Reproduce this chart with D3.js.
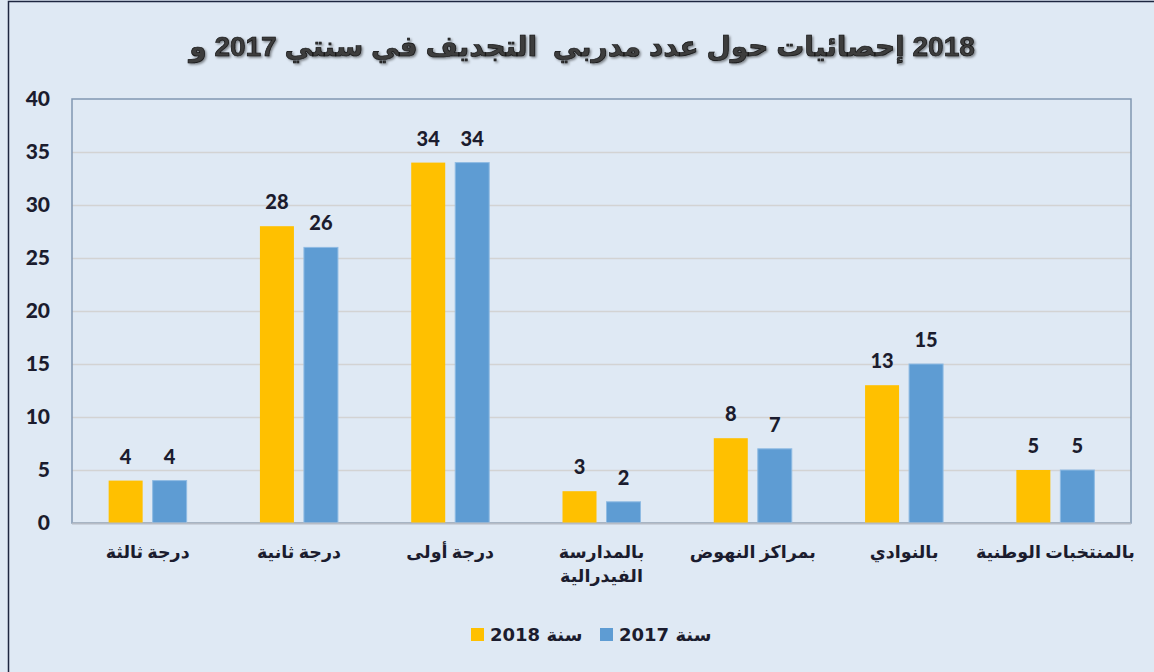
<!DOCTYPE html>
<html>
<head>
<meta charset="utf-8">
<script src="https://cdn.jsdelivr.net/npm/d3@7"></script>
<style>
  body { margin: 0; background: #dfe9f4; }
  svg { display: block; }
  .tick text { font-family: Lato, "DejaVu Sans", sans-serif; }
</style>
</head>
<body>
<svg width="1154" height="672"></svg>
<script>
// Data
let categories = ["درجة ثالثة", "درجة ثانية", "درجة أولى", "بالمدارسة|الفيدرالية", "بمراكز النهوض", "بالنوادي", "بالمنتخبات الوطنية"];
let series = ["سنة 2018", "سنة 2017"];
let values2018 = [4, 28, 34, 3, 8, 13, 5];
let values2017 = [4, 26, 34, 2, 7, 15, 5];
let yTicks = [0, 5, 10, 15, 20, 25, 30, 35, 40];
let titleText = "2018 إحصائيات حول عدد مدربي \u00A0التجديف في سنتي 2017 و";

let colors = { "سنة 2018": "#ffc000", "سنة 2017": "#5e9cd3" };

let svg = d3.select("svg");
let width = +svg.attr("width");
let height = +svg.attr("height");

// plot area
let margin = { top: 99, right: 23, bottom: 149, left: 72 };
let plotW = width - margin.left - margin.right;
let plotH = height - margin.top - margin.bottom;

// background + outer frame
svg.append("rect")
  .attr("width", width).attr("height", height)
  .attr("fill", "#dfe9f4");
svg.append("rect")
  .attr("x", 8.5).attr("y", 1.5)
  .attr("width", width + 10).attr("height", height + 10)
  .attr("fill", "none")
  .attr("stroke", "#1e2740")
  .attr("stroke-width", 1.5);

// shadow filter for title
let defs = svg.append("defs");
let f = defs.append("filter").attr("id", "shadow").attr("x", "-5%").attr("y", "-30%").attr("width", "110%").attr("height", "160%");
f.append("feDropShadow").attr("dx", 1.5).attr("dy", 1.5).attr("stdDeviation", 0.8).attr("flood-color", "#000").attr("flood-opacity", 0.45);

// Title
svg.append("text")
  .attr("x", 582).attr("y", 56)
  .attr("direction", "rtl")
  .attr("text-anchor", "middle")
  .attr("font-family", "'Liberation Sans', 'DejaVu Sans', sans-serif")
  .attr("font-weight", "bold")
  .attr("font-size", 28)
  .attr("fill", "#3c3c3c")
  .attr("stroke", "#111")
  .attr("stroke-width", 0.7)
  .attr("filter", "url(#shadow)")
  .text(titleText);

let chart = svg.append("g")
  .attr("transform", "translate(" + margin.left + "," + margin.top + ")");

// Scales
let x0 = d3.scaleBand().domain(categories).range([0, plotW]);
let x1 = d3.scaleBand().domain(series)
  .range([x0.bandwidth() / 2 - 39, x0.bandwidth() / 2 + 39])
  .paddingInner(0.2273);
let y = d3.scaleLinear().domain([0, 40]).range([plotH, 0]);

// gridlines
chart.append("g")
  .attr("class", "grid")
  .call(d3.axisLeft(y).tickValues(yTicks.slice(1, -1)).tickSize(-plotW).tickFormat(""))
  .call(g => g.select(".domain").remove())
  .selectAll("line")
  .attr("stroke", "#d3d3d3")
  .attr("stroke-width", 1.5);

// plot border
chart.append("rect")
  .attr("x", 0).attr("y", 0)
  .attr("width", plotW).attr("height", plotH)
  .attr("fill", "none")
  .attr("stroke", "#8197b1")
  .attr("stroke-width", 1.5);

// Bars
let table = categories.map((c, i) => ({ cat: c, vals: [
  { s: series[0], v: values2018[i] },
  { s: series[1], v: values2017[i] }
]}));

let groups = chart.selectAll(".cat")
  .data(table)
  .enter().append("g")
  .attr("class", "cat")
  .attr("transform", d => "translate(" + x0(d.cat) + ",0)");

groups.selectAll("rect")
  .data(d => d.vals)
  .enter().append("rect")
  .attr("x", d => x1(d.s))
  .attr("y", d => y(d.v))
  .attr("width", x1.bandwidth())
  .attr("height", d => plotH - y(d.v))
  .attr("fill", d => colors[d.s])
  .attr("stroke", d => d.s === series[1] ? "#8fbbe3" : "none")
  .attr("stroke-width", 1);

groups.selectAll("text")
  .data(d => d.vals)
  .enter().append("text")
  .attr("x", d => x1(d.s) + x1.bandwidth() / 2)
  .attr("y", d => y(d.v) - 17)
  .attr("text-anchor", "middle")
  .attr("font-family", "Lato, 'DejaVu Sans', sans-serif")
  .attr("font-weight", 900)
  .attr("font-size", 20)
  .attr("fill", "#1b1c2e")
  .text(d => d.v);

// bottom axis line
chart.append("line")
  .attr("x1", 0).attr("x2", plotW)
  .attr("y1", plotH + 0.5).attr("y2", plotH + 0.5)
  .attr("stroke", "#b6bcc6")
  .attr("stroke-width", 2);

// Y axis labels
chart.append("g")
  .call(d3.axisLeft(y).tickValues(yTicks).tickSize(0).tickPadding(22))
  .call(g => g.select(".domain").remove())
  .selectAll("text")
  .attr("font-size", 21)
  .attr("font-weight", 900)
  .attr("fill", "#1b1c2e");

// X axis labels
let xAxis = chart.append("g")
  .attr("transform", "translate(0," + plotH + ")")
  .call(d3.axisBottom(x0).tickSize(0).tickFormat(""))
  .call(g => g.select(".domain").remove());

xAxis.selectAll(".tick").each(function(d) {
  let lines = d.split("|");
  let t = d3.select(this).append("text")
    .attr("direction", "rtl")
    .attr("text-anchor", "middle")
    .attr("font-family", "'DejaVu Sans', sans-serif")
    .attr("font-weight", "bold")
    .attr("font-size", 17.5)
    .attr("fill", "#1b1c2e");
  lines.forEach((ln, i) => {
    t.append("tspan").attr("x", 0).attr("y", 35 + i * 24).text(ln);
  });
});

// Legend
let legendItems = [
  { s: series[0], x: 471 },
  { s: series[1], x: 600 }
];
let legend = svg.append("g");
legend.selectAll("rect")
  .data(legendItems)
  .enter().append("rect")
  .attr("x", d => d.x).attr("y", 628)
  .attr("width", 13).attr("height", 13)
  .attr("fill", d => colors[d.s]);
legend.selectAll("text")
  .data(legendItems)
  .enter().append("text")
  .attr("x", d => d.x + 19).attr("y", 641)
  .attr("direction", "rtl")
  .attr("text-anchor", "end")
  .attr("font-family", "'DejaVu Sans', sans-serif")
  .attr("font-weight", "bold")
  .attr("font-size", 18)
  .attr("fill", "#1b1c2e")
  .text(d => d.s);
</script>
</body>
</html>
